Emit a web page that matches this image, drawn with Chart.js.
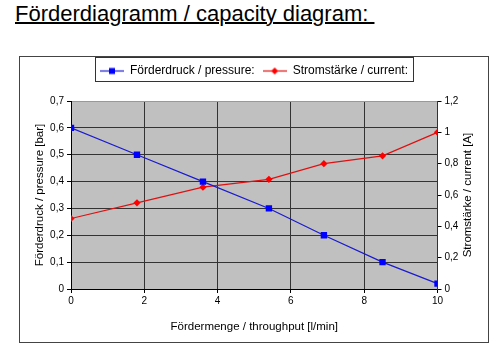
<!DOCTYPE html>
<html>
<head>
<meta charset="utf-8">
<script src="https://cdn.jsdelivr.net/npm/chart.js@4.4.1/dist/chart.umd.min.js"></script>
<style>
  html, body { margin: 0; padding: 0; background: #fff; width: 500px; height: 356px; overflow: hidden; }
  #title { position: absolute; left: 15px; top: 1px; font-family: 'Liberation Sans', Arial, sans-serif; font-size: 22px; color: #000; text-decoration: underline; text-decoration-thickness: 2px; white-space: pre; }
  #frame { position: absolute; left: 19px; top: 56px; width: 470px; height: 287px; box-sizing: border-box; border: 1px solid #444; }
  #wrap { position: absolute; left: 0; top: 0; width: 468px; height: 285px; }
</style>
</head>
<body>
<div id="title">Förderdiagramm / capacity diagram: </div>
<div id="frame"><div id="wrap"><canvas id="c"></canvas></div></div>
<script>
// ---- data ----
const throughput = [0, 1.8, 3.6, 5.4, 6.9, 8.5, 10];
const pressure   = [0.6, 0.5, 0.4, 0.3, 0.2, 0.1, 0.02];
const current    = [0.45, 0.55, 0.65, 0.7, 0.8, 0.85, 1.0];
const seriesNames = ['Förderdruck / pressure:', 'Stromstärke / current:'];
const xTitle = 'Fördermenge / throughput [l/min]';
const yTitle = 'Förderdruck / pressure [bar]';
const y2Title = 'Stromstärke / current [A]';

const FONT = "'Liberation Sans', Arial, sans-serif";
const BLUE_LINE = '#1a1ad0', BLUE_PT = '#0000ff';
const RED_LINE = '#e01010', RED_PT = '#ff0000';

function legendIcon(lineColor, ptColor, shape) {
  const c = document.createElement('canvas');
  c.width = 24; c.height = 9;
  const g = c.getContext('2d');
  g.strokeStyle = lineColor; g.lineWidth = 1.2;
  g.beginPath(); g.moveTo(0, 4.5); g.lineTo(24, 4.5); g.stroke();
  g.fillStyle = ptColor;
  if (shape === 'rect') { g.fillRect(9, 1.5, 6, 6); }
  else { g.beginPath(); g.moveTo(12, 1); g.lineTo(15.5, 4.5); g.lineTo(12, 8); g.lineTo(8.5, 4.5); g.closePath(); g.fill(); }
  return c;
}
const icons = [legendIcon(BLUE_LINE, BLUE_PT, 'rect'), legendIcon(RED_LINE, RED_PT, 'diamond')];

const fmt = v => String(Math.round(v * 10) / 10).replace('.', ',');

const bgPlugin = {
  id: 'bg',
  beforeDraw(chart) {
    const {ctx, chartArea: a} = chart;
    ctx.save(); ctx.fillStyle = '#c0c0c0';
    ctx.fillRect(a.left, a.top, a.right - a.left, a.bottom - a.top);
    ctx.restore();
  },
  afterDraw(chart) {
    const {ctx} = chart;
    // legend border
    const hb = chart.legend.legendHitBoxes;
    if (hb && hb.length) {
      let l = Infinity, r = -Infinity, t = Infinity, b = -Infinity;
      hb.forEach(h => { l = Math.min(l, h.left); r = Math.max(r, h.left + h.width); t = Math.min(t, h.top); b = Math.max(b, h.top + h.height); });
      ctx.save(); ctx.strokeStyle = '#333'; ctx.lineWidth = 1;
      ctx.strokeRect(Math.round(l - 5) + 0.5, Math.round(t - 8) + 0.5, Math.round(r - l + 10), Math.round(b - t + 12));
      ctx.restore();
    }
    // right axis title (reads bottom to top)
    const s = chart.scales.y1;
    ctx.save();
    ctx.font = "11.5px " + FONT; ctx.fillStyle = '#000';
    ctx.textAlign = 'center'; ctx.textBaseline = 'middle';
    ctx.translate(s.right - 20, (s.top + s.bottom) / 2);
    ctx.rotate(-Math.PI / 2);
    ctx.fillText(y2Title, 0, 0);
    ctx.restore();
  }
};

new Chart(document.getElementById('c'), {
  type: 'line',
  data: {
    datasets: [
      { label: seriesNames[0], data: throughput.map((x, i) => ({x, y: pressure[i]})), yAxisID: 'y',
        borderColor: BLUE_LINE, backgroundColor: BLUE_PT, borderWidth: 1.2, pointStyle: 'rect', pointRadius: 4.5,
        pointBorderWidth: 0, pointHoverRadius: 4.5, tension: 0 },
      { label: seriesNames[1], data: throughput.map((x, i) => ({x, y: current[i]})), yAxisID: 'y1',
        borderColor: RED_LINE, backgroundColor: RED_PT, borderWidth: 1.2, pointStyle: 'rectRot', pointRadius: 3.6,
        pointBorderWidth: 0, pointHoverRadius: 3.6, tension: 0 }
    ]
  },
  options: {
    responsive: true, maintainAspectRatio: false, animation: false,
    devicePixelRatio: 1,
    layout: { padding: { top: 0, left: 0, right: 0, bottom: 0 } },
    plugins: {
      tooltip: { enabled: false },
      legend: {
        position: 'top',
        labels: {
          font: { family: FONT, size: 12 }, color: '#000',
          usePointStyle: true, pointStyleWidth: 24, padding: 8,
          generateLabels: chart => chart.data.datasets.map((d, i) => ({
            text: d.label, pointStyle: icons[i], datasetIndex: i, fontColor: '#000',
            lineWidth: 0, strokeStyle: 'transparent', fillStyle: 'transparent'
          }))
        }
      }
    },
    scales: {
      x: {
        type: 'linear', min: 0, max: 10,
        ticks: { stepSize: 2, font: { family: FONT, size: 10 }, color: '#000', padding: 2 },
        grid: { color: c => (c.tick && (c.tick.value === 0 || c.tick.value === 10)) ? 'rgba(0,0,0,0)' : '#333', lineWidth: 1, tickLength: 4, tickColor: '#000' },
        border: { color: '#000' },
        title: { display: true, text: xTitle, font: { family: FONT, size: 11.5 }, color: '#000', padding: { top: 0, bottom: 8 } },
        afterFit: s => { s.height = 53; }
      },
      x2: {
        type: 'linear', position: 'top', display: true,
        ticks: { display: false }, grid: { display: false, drawTicks: false }, border: { display: false },
        afterFit: s => { s.height = 14; }
      },
      y: {
        position: 'left', min: 0, max: 0.7,
        ticks: { stepSize: 0.1, callback: fmt, font: { family: FONT, size: 10 }, color: '#000', padding: 3 },
        grid: { color: c => (c.tick && Math.abs(c.tick.value - 0.7) < 1e-6) ? '#999' : '#333', tickLength: 4, tickColor: '#000' },
        border: { color: '#000' },
        title: { display: true, text: yTitle, font: { family: FONT, size: 11.5 }, color: '#000', padding: { top: 13, bottom: 0 } },
        afterFit: s => { s.width = 51; }
      },
      y1: {
        position: 'right', min: 0, max: 1.2,
        ticks: { stepSize: 0.2, callback: fmt, font: { family: FONT, size: 10 }, color: '#000', padding: 3 },
        grid: { drawOnChartArea: false, tickLength: 4, tickColor: '#000' },
        border: { color: '#333' },
        afterFit: s => { s.width = 50.5; }
      }
    }
  },
  plugins: [bgPlugin]
});
</script>
</body>
</html>
